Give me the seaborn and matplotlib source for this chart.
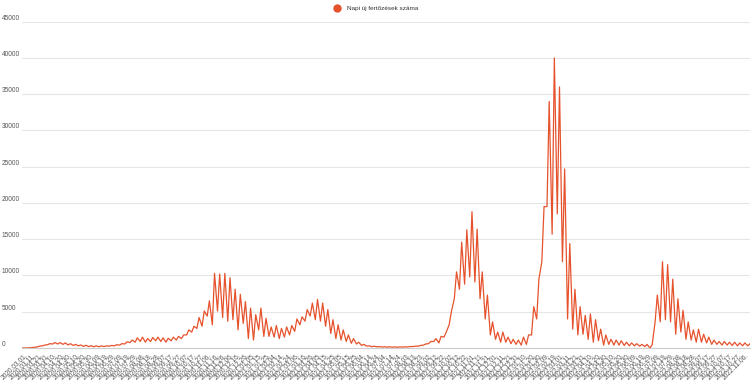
import pandas as pd
import matplotlib
matplotlib.use('Agg')
import matplotlib.pyplot as plt
from matplotlib.lines import Line2D
import seaborn as sns

start_date = '2020-02-26'
series_name = 'Napi új fertőzések száma'
line_color = '#e6522c'

weekly_low = [
    0, 10, 50, 150,
    300, 450, 550, 550, 500, 420, 350, 300,
    220, 190, 170, 180, 200, 250, 300,
    400, 550, 750,
    800, 900, 800, 900, 1000, 900, 800, 1000, 1100, 1300,
    1800, 2200, 2700,
    3000, 4400,
    3200, 5100, 4200, 3700, 3900, 2500, 3400, 1300, 1100, 2500,
    1600, 1600, 1500, 1300, 1500, 1800, 2300, 3200, 3700, 4400,
    3900, 3700, 3000, 2000, 1300, 1100, 900, 650, 550, 350, 250,
    180, 150, 130, 120, 110, 110, 120, 150, 200, 250,
    400, 600, 900, 700, 1500, 3200,
    6800, 8100, 8800, 9800, 9100, 6800, 4000, 1800, 1200, 800,
    800, 600, 500, 400, 500,
    1800, 4000, 11900, 19500, 15700, 18500, 11900, 4000, 2600, 1800,
    1900, 1200, 800, 1000, 400, 500, 400, 400, 350, 300,
    300, 250, 200, 0,
    3600, 3600, 3900, 3600, 1900, 2200, 1200, 1100, 800, 800,
    700, 500, 500, 400, 400, 350, 300, 300, 300,
]

weekly_high = [
    0, 30, 100, 250,
    400, 600, 750, 750, 700, 600, 500, 420,
    380, 320, 300, 280, 300, 350, 450,
    600, 850, 1100,
    1400, 1500, 1300, 1450, 1500, 1400, 1350, 1500, 1600, 1800,
    2500, 3000, 4200,
    5100, 6500,
    10300, 10200, 10300, 9700, 8100, 7400, 6400, 5500, 4600, 5500,
    4100, 2900, 3100, 2700, 2900, 3100, 4000, 4300, 5300, 6200,
    6700, 6200, 5300, 3900, 3200, 2500, 1800, 1300, 800, 500, 300,
    250, 200, 180, 160, 150, 150, 160, 200, 250, 350,
    550, 900, 1300, 1600, 2200, 5000,
    10500, 14600, 16300, 18800, 16400, 10500, 7300, 3600, 2200, 2200,
    1500, 1200, 1100, 1500, 1800,
    5700, 9500, 19500, 34000, 40000, 36000, 24700, 14400, 8100, 5700,
    4500, 4700, 3900, 2600, 1800, 1200, 1100, 1000, 800, 700,
    600, 500, 500, 450,
    7300, 11900, 11500, 9500, 6800, 5200, 3600, 2500, 2600, 1900,
    1500, 1100, 900, 900, 800, 800, 700, 700, 600,
]

y_ticks = [0, 5000, 10000, 15000, 20000, 25000, 30000, 35000, 40000, 45000]

first_day = pd.Timestamp(start_date)
rows = []
for week, (low, high) in enumerate(zip(weekly_low, weekly_high)):
    rows.append((first_day + pd.Timedelta(days=7 * week), low))
    rows.append((first_day + pd.Timedelta(days=7 * week + 3), high))
df = pd.DataFrame(rows, columns=['datum', 'esetek'])

sns.set_style('white')
plt.rcParams['font.family'] = ['Liberation Sans', 'DejaVu Sans']

fig = plt.figure(figsize=(7.53, 3.85), dpi=100)
ax = fig.add_axes([0.029, 0.0961, 0.967, 0.8475])

sns.lineplot(data=df, x='datum', y='esetek', color=line_color, linewidth=0.9, ax=ax, legend=False)

ax.set_xlim(df['datum'].min(), df['datum'].max())
ax.set_ylim(0, 45000)
ax.set_yticks(y_ticks)
ax.set_yticklabels([str(v) for v in y_ticks])
ax.grid(axis='y', color='#e6e6e6', linewidth=0.8)
ax.grid(axis='x', visible=False)
ax.set_xlabel('')
ax.set_ylabel('')

for side in ['top', 'right', 'left']:
    ax.spines[side].set_visible(False)
ax.spines['bottom'].set_color('#cccccc')
ax.spines['bottom'].set_linewidth(0.8)

# y labels sit left-aligned at the figure edge, just above their gridline
ax.tick_params(axis='y', length=0, pad=14.4, labelsize=4.7, labelcolor='#555555')
for lbl in ax.get_yticklabels():
    lbl.set_ha('left')
    lbl.set_va('bottom')

# dense rotated date labels, one every 10 days
x_ticks = pd.date_range(df['datum'].min() + pd.Timedelta(days=4),
                        df['datum'].max() - pd.Timedelta(days=6), freq='10D')
ax.set_xticks(x_ticks)
ax.set_xticklabels([d.strftime('%Y.%m.%d.') for d in x_ticks], rotation=45,
                   ha='right', rotation_mode='anchor')
ax.tick_params(axis='x', length=0, pad=3, labelsize=4.8, labelcolor='#555555')

handle = Line2D([], [], marker='o', color=line_color, linestyle='', markersize=5)
fig.legend([handle], [series_name], loc='center', bbox_to_anchor=(0.497, 0.979),
           frameon=False, fontsize=4.6, handletextpad=0.6, labelcolor='#333333')

fig.savefig('out.png', dpi=100)
